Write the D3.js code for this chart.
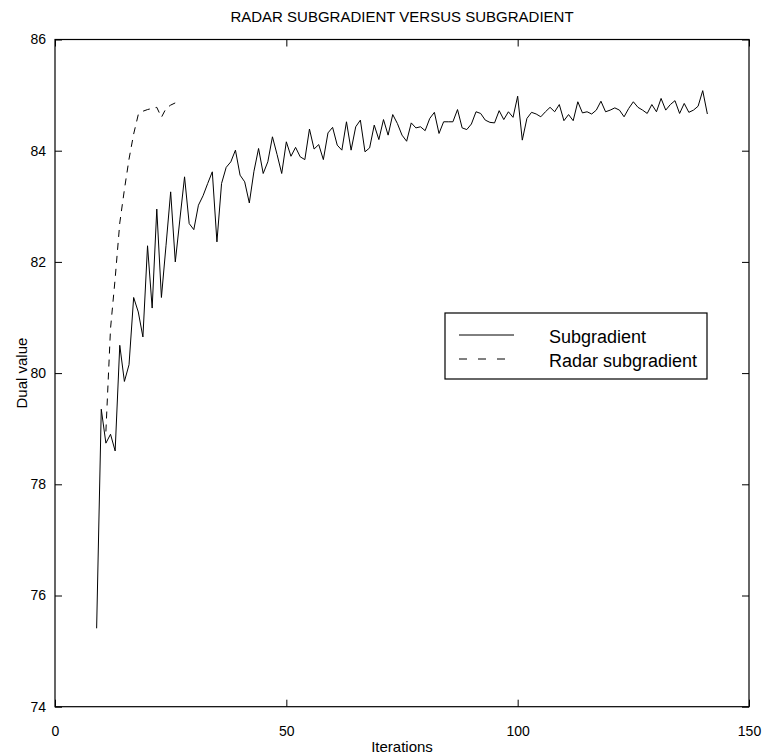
<!DOCTYPE html>
<html>
<head>
<meta charset="utf-8">
<script src="https://cdn.jsdelivr.net/npm/d3@7"></script>
<style>
  body { margin: 0; background: #fff; }
  text { font-family: "Liberation Sans", Arial, Helvetica, sans-serif; fill: #000; }
</style>
</head>
<body>
<div id="chart"></div>
<script>
// 1: DATA
const subgradientStart = 9;   // first iteration of the subgradient run
const subgradientValues = [
    75.41, 79.35, 78.74, 78.90, 78.60, 80.50, 79.85, 80.15, 81.36, 81.10,
    80.65, 82.29, 81.17, 82.95, 81.36, 82.30, 83.26, 82.00, 82.77, 83.53,
    82.69, 82.58, 83.02, 83.19, 83.41, 83.62, 82.36, 83.41, 83.70, 83.80,
    84.01, 83.56, 83.44, 83.06, 83.63, 84.04, 83.59, 83.80, 84.25, 83.93,
    83.59, 84.16, 83.90, 84.06, 83.89, 83.84, 84.39, 84.03, 84.11, 83.84,
    84.32, 84.42, 84.10, 84.01, 84.52, 84.01, 84.43, 84.55, 83.98, 84.05,
    84.46, 84.20, 84.56, 84.28, 84.65, 84.49, 84.28, 84.17, 84.50, 84.41,
    84.43, 84.36, 84.58, 84.69, 84.31, 84.52, 84.52, 84.52, 84.74, 84.41,
    84.38, 84.48, 84.70, 84.67, 84.55, 84.51, 84.50, 84.72, 84.56, 84.70,
    84.60, 84.98, 84.19, 84.58, 84.69, 84.66, 84.61, 84.70, 84.78, 84.70,
    84.83, 84.54, 84.65, 84.54, 84.88, 84.68, 84.70, 84.66, 84.73, 84.89,
    84.70, 84.73, 84.77, 84.73, 84.61, 84.76, 84.88, 84.78, 84.73, 84.67,
    84.83, 84.70, 84.94, 84.73, 84.83, 84.90, 84.67, 84.85, 84.69, 84.73,
    84.80, 85.08, 84.66
];

const radarStart = 11;        // first iteration of the radar run
const radarValues = [
    78.95, 80.80, 81.70, 82.70, 83.30, 83.85, 84.30, 84.65, 84.71, 84.74,
    84.76, 84.78, 84.60, 84.76, 84.82, 84.86
];

const xTicks = [0, 50, 100, 150];
const yTicks = [74, 76, 78, 80, 82, 84, 86];
const legendLabels = ["Subgradient", "Radar subgradient"];

// 2: LAYOUT
const margin = { top: 39.5, right: 16, bottom: 49.3, left: 55 };
const width = 765 - margin.left - margin.right;
const height = 756 - margin.top - margin.bottom;

const svg = d3.select("#chart")
    .append("svg")
    .attr("width", 765)
    .attr("height", 756);

const g = svg.append("g")
    .attr("transform", `translate(${margin.left},${margin.top})`);

// 3: SCALES
const xScale = d3.scaleLinear().domain([0, 150]).range([0, width]);
const yScale = d3.scaleLinear().domain([74, 86]).range([height, 0]);

const subgradient = subgradientValues.map((v, i) => ({ iter: subgradientStart + i, value: v }));
const radar = radarValues.map((v, i) => ({ iter: radarStart + i, value: v }));

// 4: AXES (matlab style: ticks pointing inward on all four sides)
const tickLen = 7;

g.append("g")
    .attr("transform", `translate(0, ${height})`)
    .call(d3.axisBottom(xScale).tickValues(xTicks).tickSize(-tickLen).tickPadding(19));

g.append("g")
    .call(d3.axisLeft(yScale).tickValues(yTicks).tickSize(-tickLen).tickPadding(9));

g.append("g")
    .call(d3.axisTop(xScale).tickValues(xTicks).tickSize(-tickLen).tickFormat(""));

g.append("g")
    .attr("transform", `translate(${width}, 0)`)
    .call(d3.axisRight(yScale).tickValues(yTicks).tickSize(-tickLen).tickFormat(""));

g.selectAll(".domain").remove();
g.selectAll(".tick line").attr("stroke", "#000");
g.selectAll(".tick text")
    .style("font-size", "14px")
    .style("font-family", "'Liberation Sans', Arial, sans-serif");

g.append("rect")
    .attr("width", width)
    .attr("height", height)
    .attr("fill", "none")
    .attr("stroke", "#000")
    .attr("stroke-width", 1.2);

// 5: LINES
const line = d3.line()
    .x(d => xScale(d.iter))
    .y(d => yScale(d.value));

g.append("path")
    .datum(subgradient)
    .attr("fill", "none")
    .attr("stroke", "#000")
    .attr("stroke-width", 1)
    .attr("d", line);

g.append("path")
    .datum(radar)
    .attr("fill", "none")
    .attr("stroke", "#000")
    .attr("stroke-width", 1)
    .attr("stroke-dasharray", "7,6")
    .attr("d", line);

// 6: LABELS
svg.append("text")
    .attr("x", margin.left + width / 2)
    .attr("y", 22)
    .attr("text-anchor", "middle")
    .style("font-size", "15px")
    .text("RADAR SUBGRADIENT VERSUS SUBGRADIENT");

svg.append("text")
    .attr("x", margin.left + width / 2)
    .attr("y", 752)
    .attr("text-anchor", "middle")
    .style("font-size", "15px")
    .text("Iterations");

svg.append("text")
    .attr("transform", "rotate(-90)")
    .attr("x", -(margin.top + height / 2))
    .attr("y", 27)
    .attr("text-anchor", "middle")
    .style("font-size", "15px")
    .text("Dual value");

// 7: LEGEND
const legend = svg.append("g")
    .attr("transform", "translate(445, 313)");

legend.append("rect")
    .attr("width", 262)
    .attr("height", 66)
    .attr("fill", "#fff")
    .attr("stroke", "#000")
    .attr("stroke-width", 1.2);

const legendRows = legend.selectAll(".row")
    .data(legendLabels)
    .enter()
    .append("g")
    .attr("class", "row")
    .attr("transform", (d, i) => `translate(0, ${22 + i * 24})`);

legendRows.append("line")
    .attr("x1", 14)
    .attr("x2", 69)
    .attr("stroke", "#000")
    .attr("stroke-width", 1)
    .attr("stroke-dasharray", (d, i) => i === 0 ? null : "8,11");

legendRows.append("text")
    .attr("x", 104)
    .attr("y", 8)
    .style("font-size", "18px")
    .text(d => d);
</script>
</body>
</html>
